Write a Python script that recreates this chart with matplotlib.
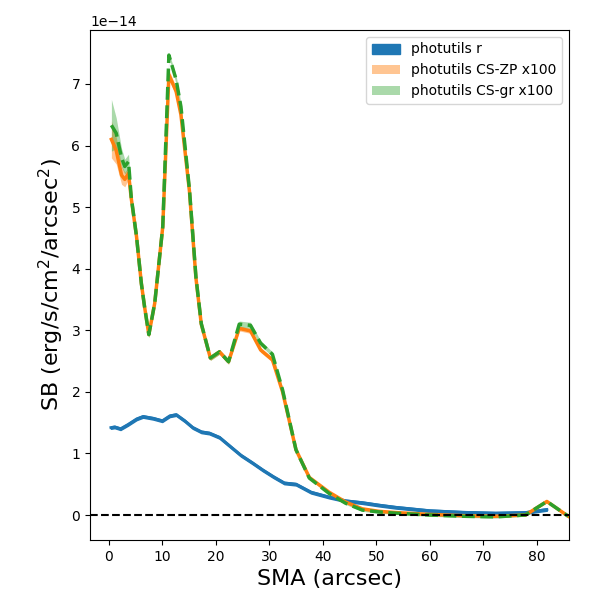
import numpy as np
import matplotlib
matplotlib.use("Agg")
import matplotlib.pyplot as plt

# photutils r profile (units of 1e-14)
sma_r = [0.4, 1.1, 2.2, 3.6, 5.2, 6.4, 8.3, 10.0, 11.4, 12.6, 14.2, 15.7, 17.3,
         18.8, 20.7, 22.9, 24.7, 26.8, 28.8, 30.8, 32.8, 35.0, 37.8, 41.2, 44.3,
         47.4, 50.5, 53.6, 59.9, 66.1, 72.3, 77.9, 81.9]
sb_r = [1.42, 1.43, 1.40, 1.47, 1.56, 1.60, 1.57, 1.53, 1.61, 1.63, 1.53, 1.42, 1.35,
        1.33, 1.26, 1.10, 0.97, 0.85, 0.73, 0.62, 0.52, 0.50, 0.37, 0.29, 0.23,
        0.20, 0.16, 0.125, 0.07, 0.044, 0.03, 0.04, 0.09]
err_r = [0.02] * len(sb_r)

# CS profiles x100 (units of 1e-14)
sma_cs = [0.5, 1.4, 2.4, 3.0, 3.7, 4.2, 5.2, 6.1, 6.7, 7.5, 8.6, 10.1, 11.25, 12.6,
          13.5, 15.1, 16.3, 17.3, 19.0, 20.7, 22.4, 24.4, 26.5, 28.4, 30.6, 32.5,
          35.0, 37.5, 41.2, 44.3, 47.4, 50.5, 53.6, 59.9, 66.1, 72.3, 77.9, 81.9, 85.9]
sb_zp = [6.10, 5.92, 5.52, 5.45, 5.55, 5.15, 4.52, 3.76, 3.38, 2.93, 3.44, 4.68, 7.15, 6.88,
         6.50, 5.25, 3.85, 3.10, 2.55, 2.65, 2.49, 3.03, 2.99, 2.68, 2.52, 2.00,
         1.06, 0.61, 0.37, 0.21, 0.10, 0.06, 0.04, 0.01, -0.01, -0.02, 0.00, 0.22, -0.02]
sb_gr = [6.33, 6.20, 5.80, 5.66, 5.74, 5.17, 4.52, 3.76, 3.38, 2.93, 3.44, 4.68, 7.47, 7.07,
         6.63, 5.28, 3.87, 3.11, 2.55, 2.65, 2.49, 3.10, 3.08, 2.79, 2.61, 2.03,
         1.06, 0.60, 0.35, 0.19, 0.08, 0.05, 0.03, 0.00, -0.02, -0.03, 0.00, 0.22, -0.02]
err_zp = [0.30, 0.22, 0.15, 0.12, 0.10, 0.07, 0.06, 0.05, 0.05, 0.05, 0.05, 0.06, 0.08, 0.07,
          0.06, 0.05, 0.05, 0.04, 0.04, 0.04, 0.04, 0.04, 0.04, 0.04, 0.04, 0.03,
          0.03, 0.02, 0.02, 0.02, 0.02, 0.02, 0.02, 0.02, 0.02, 0.02, 0.02, 0.02, 0.02]
err_gr = [0.42, 0.25, 0.15, 0.12, 0.12, 0.07, 0.06, 0.05, 0.05, 0.05, 0.05, 0.06, 0.04, 0.07,
          0.06, 0.05, 0.05, 0.04, 0.04, 0.04, 0.04, 0.05, 0.05, 0.04, 0.04, 0.03,
          0.03, 0.02, 0.02, 0.02, 0.02, 0.02, 0.02, 0.02, 0.02, 0.02, 0.02, 0.02, 0.02]

scale = 1e-14
r = np.array(sb_r) * scale
er = np.array(err_r) * scale
zp = np.array(sb_zp) * scale
ezp = np.array(err_zp) * scale
gr = np.array(sb_gr) * scale
egr = np.array(err_gr) * scale

fig, ax = plt.subplots(figsize=(6, 6), dpi=100)
fig.subplots_adjust(left=0.15, right=0.948, bottom=0.1, top=0.95)

ax.fill_between(sma_r, r - er, r + er, color='C0', label='photutils r')
ax.plot(sma_r, r, color='C0', lw=2)

ax.fill_between(sma_cs, zp - ezp, zp + ezp, color='C1', alpha=0.45, lw=0,
                label='photutils CS-ZP x100')
ax.plot(sma_cs, zp, color='C1', lw=2.5)

ax.fill_between(sma_cs, gr - egr, gr + egr, color='C2', alpha=0.4, lw=0,
                label='photutils CS-gr x100')
ax.plot(sma_cs, gr, color='C2', lw=2.5, ls='--')

ax.axhline(0, color='k', ls='--', lw=1.5)

ax.set_xlim(-3.5, 86)
ax.set_ylim(-0.406e-14, 7.877e-14)
ax.set_xlabel('SMA (arcsec)', fontsize=16)
ax.set_ylabel(r'SB (erg/s/cm$^2$/arcsec$^2$)', fontsize=16)
ax.legend(loc='upper right')

fig.savefig('out.png')
